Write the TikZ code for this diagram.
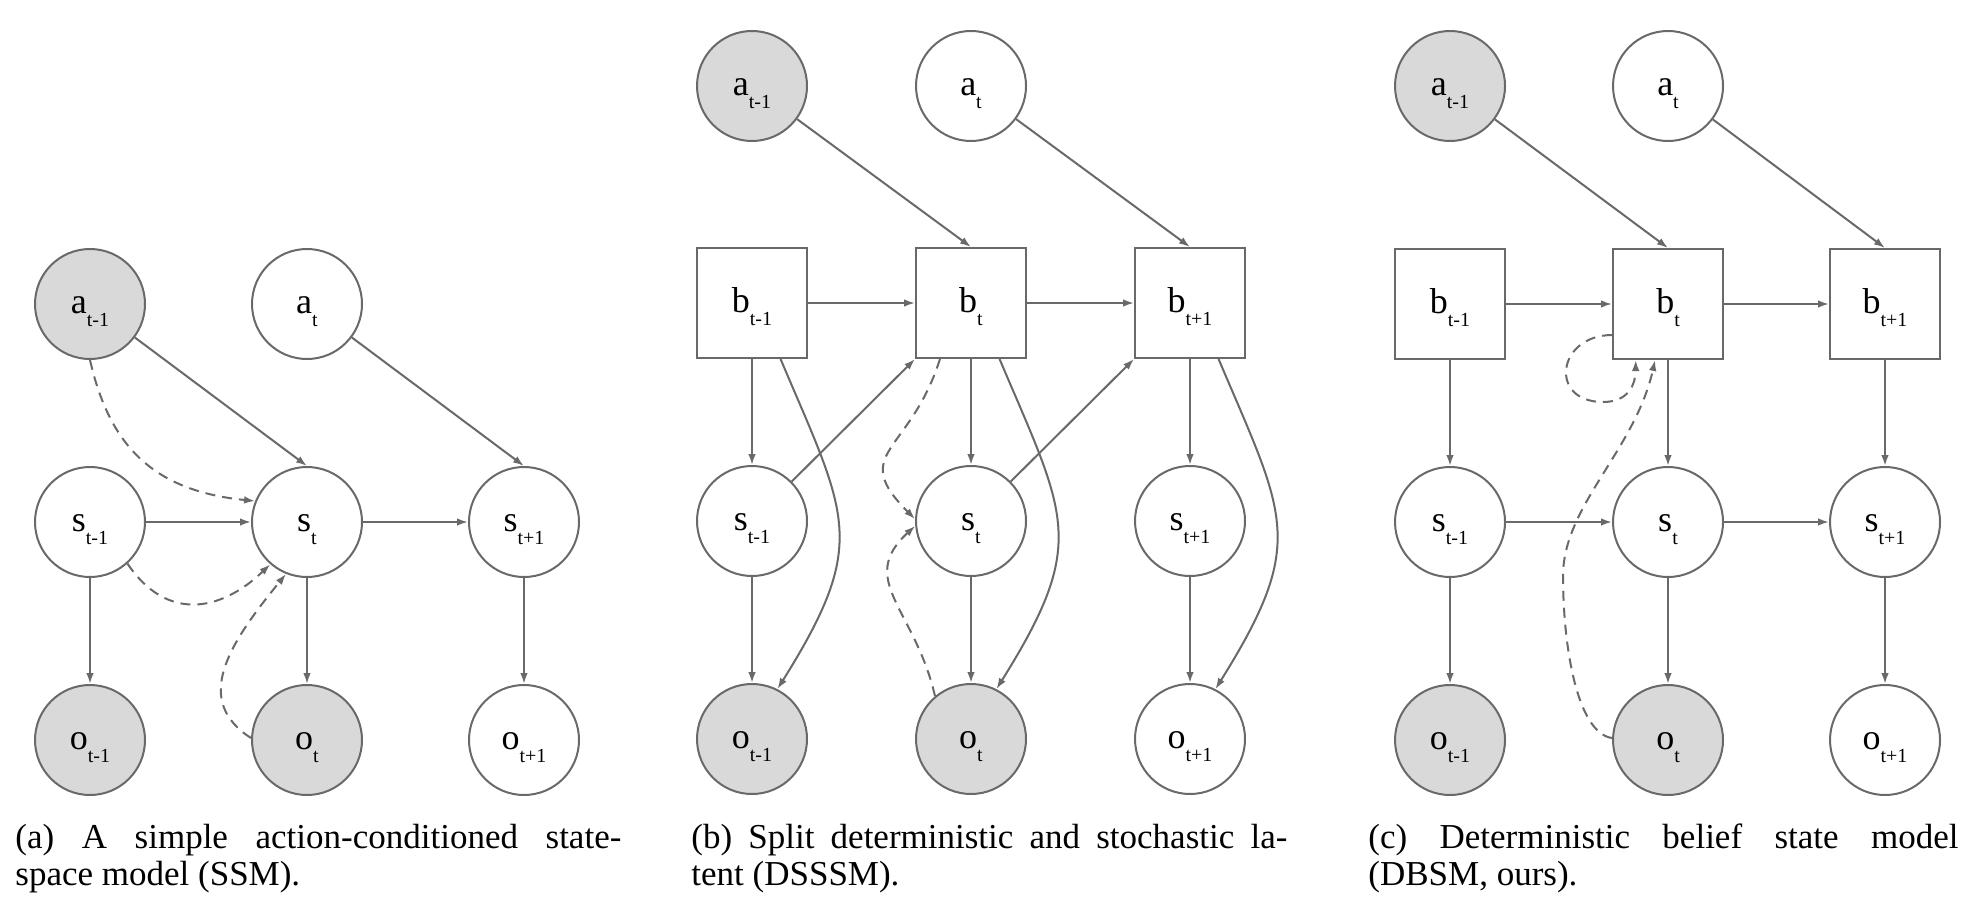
\documentclass[tikz,border=0pt]{standalone}
\usepackage{fontspec}
\setmainfont{Liberation Serif}
\usetikzlibrary{arrows.meta}
\definecolor{edgegray}{RGB}{105,105,105}
\definecolor{obsgray}{RGB}{217,217,217}
\newcommand{\nlab}[2]{#1\smash{\raisebox{-6.5pt}{\fontsize{10}{10}\selectfont #2}}}
\begin{document}
\begin{tikzpicture}[x=0.5pt,y=0.5pt,
  base/.style={draw=edgegray, line width=1pt, inner sep=0pt, minimum size=55pt,
    text height=9.5pt, text depth=0pt, font=\fontsize{18}{18}\selectfont},
  latent/.style={base, circle, fill=white},
  observed/.style={base, circle, fill=obsgray},
  det/.style={base, rectangle, fill=white},
  arr/.style={draw=edgegray, line width=1pt, -{Latex[length=5.5pt,width=3.8pt]}},
  darr/.style={arr, dash pattern=on 5pt off 3.5pt},
  capline/.style={anchor=base west, inner sep=0pt, font=\fontsize{17.5}{19}\selectfont}
]
\useasboundingbox (0,0) rectangle (1962,896);

% ---------------- Panel (a) ----------------
\node[observed] (A-at1) at (90,592)  {\nlab{a}{t-1}};
\node[latent]   (A-at)  at (307,592) {\nlab{a}{t}};
\node[latent]   (A-st1) at (90,374)  {\nlab{s}{t-1}};
\node[latent]   (A-st)  at (307,374) {\nlab{s}{t}};
\node[latent]   (A-st2) at (524,374) {\nlab{s}{t+1}};
\node[observed] (A-ot1) at (90,156)  {\nlab{o}{t-1}};
\node[observed] (A-ot)  at (307,156) {\nlab{o}{t}};
\node[latent]   (A-ot2) at (524,156) {\nlab{o}{t+1}};

\draw[arr] (A-at1) -- (A-st.north);
\draw[arr] (A-at) -- (A-st2.north);
\draw[arr] (A-st1) -- (A-st);
\draw[arr] (A-st) -- (A-st2);
\draw[arr] (A-st1) -- (A-ot1);
\draw[arr] (A-st) -- (A-ot);
\draw[arr] (A-st2) -- (A-ot2);
\draw[darr] (A-at1.south) .. controls +(20,-88) and +(-100,10) .. (A-st.158);
\draw[darr] (A-st1.-48) .. controls +(39,-58) and +(-50,-48) .. (A-st.-131);
\draw[darr] (A-ot.178) .. controls +(-59,38) and +(-57,-70) .. (A-st.-112);

\node[capline] (A-cap1) at (15,48) {\makebox[303pt][s]{(a) A simple action-conditioned state-}};
\node[capline] (A-cap2) at (15,11) {space model (SSM).};

% ---------------- Panel (b) ----------------
\node[observed] (B-at1) at (752,810)  {\nlab{a}{t-1}};
\node[latent]   (B-at)  at (971,810)  {\nlab{a}{t}};
\node[det]      (B-bt1) at (752,593)  {\nlab{b}{t-1}};
\node[det]      (B-bt)  at (971,593)  {\nlab{b}{t}};
\node[det]      (B-bt2) at (1190,593) {\nlab{b}{t+1}};
\node[latent]   (B-st1) at (752,375)  {\nlab{s}{t-1}};
\node[latent]   (B-st)  at (971,375)  {\nlab{s}{t}};
\node[latent]   (B-st2) at (1190,375) {\nlab{s}{t+1}};
\node[observed] (B-ot1) at (752,157)  {\nlab{o}{t-1}};
\node[observed] (B-ot)  at (971,157)  {\nlab{o}{t}};
\node[latent]   (B-ot2) at (1190,157) {\nlab{o}{t+1}};

\draw[arr] (B-at1) -- (B-bt.north);
\draw[arr] (B-at) -- (B-bt2.north);
\draw[arr] (B-bt1) -- (B-bt);
\draw[arr] (B-bt) -- (B-bt2);
\draw[arr] (B-bt1) -- (B-st1);
\draw[arr] (B-bt) -- (B-st);
\draw[arr] (B-bt2) -- (B-st2);
\draw[arr] (B-st1) -- (B-ot1);
\draw[arr] (B-st) -- (B-ot);
\draw[arr] (B-st2) -- (B-ot2);
\draw[arr] (B-st1) -- (B-bt.south west);
\draw[arr] (B-st) -- (B-bt2.south west);
\draw[arr] (B-bt1.-63) .. controls +(67,-158) and +(92,147) .. (B-ot1.63);
\draw[arr] (B-bt.-63) .. controls +(67,-158) and +(92,147) .. (B-ot.63);
\draw[arr] (B-bt2.-63) .. controls +(67,-158) and +(92,147) .. (B-ot2.63);
\draw[darr] (B-bt.-119) .. controls +(-30,-95) and +(-67,67) .. (B-st.178);
\draw[darr] (B-ot.130) .. controls +(-20,87) and +(-59,-54) .. (B-st.185);

\node[capline] (B-cap1) at (691,48) {\makebox[298pt][s]{(b) Split deterministic and stochastic la-}};
\node[capline] (B-cap2) at (691,11) {tent (DSSSM).};

% ---------------- Panel (c) ----------------
\node[observed] (C-at1) at (1450,810) {\nlab{a}{t-1}};
\node[latent]   (C-at)  at (1668,810) {\nlab{a}{t}};
\node[det]      (C-bt1) at (1450,592) {\nlab{b}{t-1}};
\node[det]      (C-bt)  at (1668,592) {\nlab{b}{t}};
\node[det]      (C-bt2) at (1885,592) {\nlab{b}{t+1}};
\node[latent]   (C-st1) at (1450,374) {\nlab{s}{t-1}};
\node[latent]   (C-st)  at (1668,374) {\nlab{s}{t}};
\node[latent]   (C-st2) at (1885,374) {\nlab{s}{t+1}};
\node[observed] (C-ot1) at (1450,156) {\nlab{o}{t-1}};
\node[observed] (C-ot)  at (1668,156) {\nlab{o}{t}};
\node[latent]   (C-ot2) at (1885,156) {\nlab{o}{t+1}};
\coordinate (C-loop) at (1603,494);
\coordinate (C-mid) at (1563,320);

\draw[arr] (C-at1) -- (C-bt.north);
\draw[arr] (C-at) -- (C-bt2.north);
\draw[arr] (C-bt1) -- (C-bt);
\draw[arr] (C-bt) -- (C-bt2);
\draw[arr] (C-bt1) -- (C-st1);
\draw[arr] (C-bt) -- (C-st);
\draw[arr] (C-bt2) -- (C-st2);
\draw[arr] (C-st1) -- (C-st);
\draw[arr] (C-st) -- (C-st2);
\draw[arr] (C-st1) -- (C-ot1);
\draw[arr] (C-st) -- (C-ot);
\draw[arr] (C-st2) -- (C-ot2);
\draw[darr] (C-bt.-151) .. controls +(-55,0) and +(-55,0) .. (C-loop)
            .. controls +(25,0) and +(0,-25) .. (C-bt.-120);
\draw[darr] (C-ot.178) .. controls +(-35,5) and +(0,-70) .. (C-mid)
            .. controls +(0,70) and +(-20,-90) .. (C-bt.-103);

\node[capline] (C-cap1) at (1368,48) {\makebox[295pt][s]{(c) Deterministic belief state model}};
\node[capline] (C-cap2) at (1368,11) {(DBSM, ours).};
\end{tikzpicture}
\end{document}
